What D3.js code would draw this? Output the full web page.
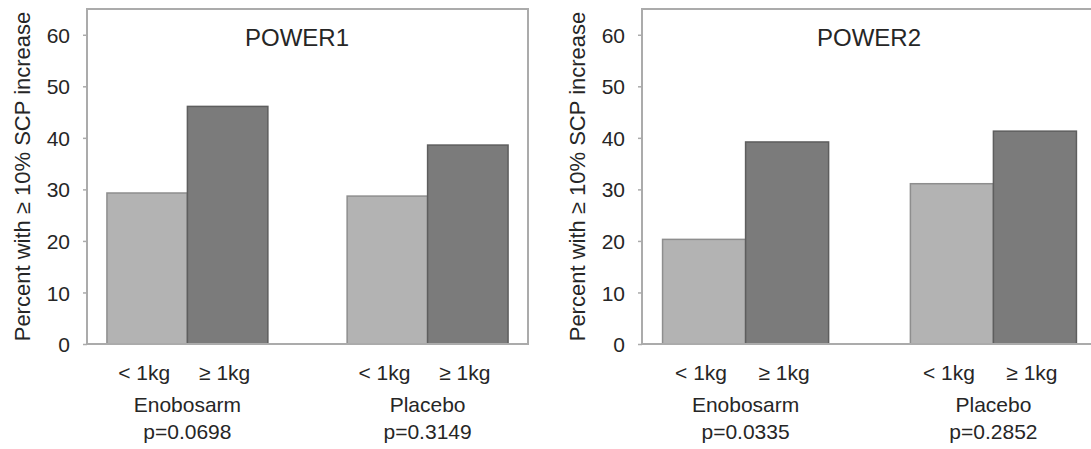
<!DOCTYPE html>
<html lang="en">
<head>
  <meta charset="UTF-8" />
  <title>POWER1 / POWER2 SCP increase</title>
  <script src="https://d3js.org/d3.v7.min.js"></script>
  <style>
    html, body {
      margin: 0;
      padding: 0;
      background: #fff;
    }
    svg {
      display: block;
      font-family: "Liberation Sans", Arial, sans-serif;
    }
    .frame {
      fill: none;
      stroke: #ababab;
      stroke-width: 2px;
    }
    .tick-label, .cat-label, .group-label, .p-label {
      fill: #262626;
      font-size: 21px;
    }
    .y-title {
      fill: #262626;
      font-size: 22px;
    }
    .panel-title {
      fill: #262626;
      font-size: 24px;
    }
  </style>
</head>
<body>
  <svg id="chart" width="1091" height="449"></svg>

  <script>
    // data
    const groups = ["Enobosarm", "Placebo"];
    const weightCats = ["< 1kg", "\u2265 1kg"];
    const yTicks = [0, 10, 20, 30, 40, 50, 60];

    const power1Lt1kg = [29.3, 28.7];
    const power1Ge1kg = [46.1, 38.6];
    const power1PValues = ["p=0.0698", "p=0.3149"];

    const power2Lt1kg = [20.3, 31.1];
    const power2Ge1kg = [39.2, 41.3];
    const power2PValues = ["p=0.0335", "p=0.2852"];

    const yTitle = "Percent with \u2265 10%  SCP increase";

    const barColors = { "< 1kg": "#b3b3b3", "\u2265 1kg": "#7b7b7b" };
    const barStrokes = { "< 1kg": "#8e8e8e", "\u2265 1kg": "#5e5e5e" };

    const svg = d3.select("#chart");
    const plotTop = 9, plotBottom = 344;

    const panels = [
      { title: "POWER1", lt: power1Lt1kg, ge: power1Ge1kg, p: power1PValues, x0: 87, x1: 528, titleX: 297 },
      { title: "POWER2", lt: power2Lt1kg, ge: power2Ge1kg, p: power2PValues, x0: 642, x1: 1097, titleX: 869 }
    ];

    const y = d3.scaleLinear().domain([0, 65]).range([plotBottom, plotTop]);

    panels.forEach(panel => {
      const g = svg.append("g");

      const x0 = d3.scaleBand()
        .domain(groups)
        .range([panel.x0, panel.x1])
        .paddingInner(0.33)
        .paddingOuter(0.083);

      const x1 = d3.scaleBand()
        .domain(weightCats)
        .range([0, x0.bandwidth()]);

      const rows = groups.map((grp, i) => ({
        group: grp,
        values: [
          { cat: weightCats[0], value: panel.lt[i] },
          { cat: weightCats[1], value: panel.ge[i] }
        ]
      }));

      // bars
      g.selectAll(".grp")
        .data(rows)
        .enter()
        .append("g")
        .attr("transform", d => `translate(${x0(d.group)},0)`)
        .selectAll("rect")
        .data(d => d.values)
        .enter()
        .append("rect")
        .attr("x", d => x1(d.cat))
        .attr("y", d => y(d.value))
        .attr("width", x1.bandwidth())
        .attr("height", d => plotBottom - y(d.value))
        .attr("fill", d => barColors[d.cat])
        .attr("stroke", d => barStrokes[d.cat])
        .attr("stroke-width", 1.5);

      // frame around plot area
      g.append("rect")
        .attr("class", "frame")
        .attr("x", panel.x0)
        .attr("y", plotTop)
        .attr("width", panel.x1 - panel.x0)
        .attr("height", plotBottom - plotTop);

      // y axis
      const yAxis = g.append("g")
        .attr("transform", `translate(${panel.x0},0)`)
        .call(d3.axisLeft(y).tickValues(yTicks).tickSize(4).tickPadding(13));
      yAxis.select(".domain").remove();
      yAxis.selectAll(".tick line").attr("stroke", "#ababab").attr("stroke-width", 1.5);
      yAxis.selectAll(".tick text")
        .attr("class", "tick-label")
        .attr("dy", "0.36em");
      yAxis.attr("font-family", null).attr("font-size", null);

      // y title
      g.append("text")
        .attr("class", "y-title")
        .attr("transform", `translate(${panel.x0 - 57},${(plotTop + plotBottom) / 2}) rotate(-90)`)
        .attr("text-anchor", "middle")
        .text(yTitle);

      // panel title
      g.append("text")
        .attr("class", "panel-title")
        .attr("x", panel.titleX)
        .attr("y", 46)
        .attr("text-anchor", "middle")
        .text(panel.title);

      // category labels under bars
      rows.forEach(r => {
        r.values.forEach(v => {
          g.append("text")
            .attr("class", "cat-label")
            .attr("x", x0(r.group) + x1(v.cat) + x1.bandwidth() / 2 - 3)
            .attr("y", 380)
            .attr("text-anchor", "middle")
            .text(v.cat);
        });
      });

      // group labels and p-values
      g.selectAll(".group-label")
        .data(groups)
        .enter()
        .append("text")
        .attr("class", "group-label")
        .attr("x", d => x0(d) + x0.bandwidth() / 2)
        .attr("y", 412)
        .attr("text-anchor", "middle")
        .text(d => d);

      g.selectAll(".p-label")
        .data(panel.p)
        .enter()
        .append("text")
        .attr("class", "p-label")
        .attr("x", (d, i) => x0(groups[i]) + x0.bandwidth() / 2)
        .attr("y", 439)
        .attr("text-anchor", "middle")
        .text(d => d);
    });
  </script>
</body>
</html>
